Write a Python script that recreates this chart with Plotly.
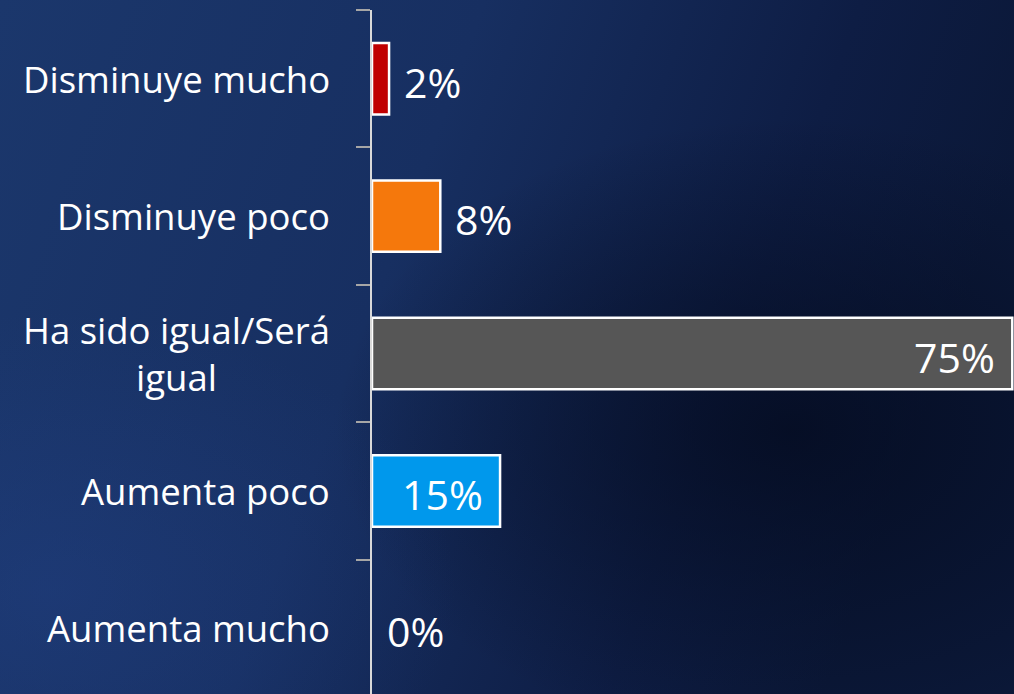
import base64
import plotly.graph_objects as go

categories = ["Disminuye mucho", "Disminuye poco", "Ha sido igual/Será<br>igual", "Aumenta poco", "Aumenta mucho"]
values = [2, 8, 75, 15, 0]
labels = ["2%", "8%", "75%", "15%", "0%"]
colors = ["#C00000", "#F5780C", "#565656", "#0098EC", "#0098EC"]

W, H = 1014, 694
ML, MR, MT, MB = 372, 0, 10, 0

svg = f'''<svg xmlns="http://www.w3.org/2000/svg" width="{W}" height="{H}" viewBox="0 0 {W} {H}">
<defs>
<linearGradient id="g" x1="0" y1="0" x2="1" y2="0.25">
<stop offset="0" stop-color="#1b376c"/>
<stop offset="0.45" stop-color="#172f61"/>
<stop offset="0.8" stop-color="#0e1d44"/>
<stop offset="1" stop-color="#0b1838"/>
</linearGradient>
<radialGradient id="r" cx="0.78" cy="0.62" r="0.45">
<stop offset="0" stop-color="#040b1f" stop-opacity="0.8"/>
<stop offset="1" stop-color="#040b1f" stop-opacity="0"/>
</radialGradient>
<radialGradient id="l" cx="0.05" cy="0.85" r="0.4">
<stop offset="0" stop-color="#23438a" stop-opacity="0.4"/>
<stop offset="1" stop-color="#23438a" stop-opacity="0"/>
</radialGradient>
</defs>
<rect width="{W}" height="{H}" fill="url(#g)"/>
<rect width="{W}" height="{H}" fill="url(#r)"/>
<rect width="{W}" height="{H}" fill="url(#l)"/>
</svg>'''
bg_src = "data:image/svg+xml;base64," + base64.b64encode(svg.encode()).decode()

pw = W - ML - MR
ph = H - MT - MB

fig = go.Figure()
fig.add_trace(go.Bar(
    y=categories, x=values, orientation="h",
    marker=dict(color=colors,
                line=dict(color="white", width=[2.5 if v > 0 else 0 for v in values])),
    width=0.52, hoverinfo="skip", showlegend=False,
))

annotations = []
for cat, v, lab in zip(categories, values, labels):
    inside = v >= 10
    annotations.append(dict(
        x=v, y=cat, xref="x", yref="y", text=lab, showarrow=False,
        xanchor="right" if inside else "left",
        xshift=-15 if inside else 13,
        yshift=-3,
        font=dict(family="Open Sans", size=41, color="white"),
    ))
    annotations.append(dict(
        x=0, y=cat, xref="x", yref="y", text=cat, showarrow=False,
        xanchor="right", xshift=-40, align="center",
        font=dict(family="Open Sans", size=36.5, color="white"),
    ))

fig.update_layout(
    width=W, height=H,
    margin=dict(l=ML, r=MR, t=MT, b=MB, pad=0),
    paper_bgcolor="#132a5a",
    plot_bgcolor="rgba(0,0,0,0)",
    images=[dict(
        source=bg_src, xref="paper", yref="paper",
        x=-ML / pw, y=1 + MT / ph, sizex=W / pw, sizey=H / ph,
        xanchor="left", yanchor="top", sizing="stretch", layer="below",
    )],
    xaxis=dict(visible=False, range=[0, 75.2], fixedrange=True),
    yaxis=dict(
        type="category", categoryorder="array", categoryarray=categories,
        range=[4.478, -0.5], showgrid=False, zeroline=False, fixedrange=True,
        showline=True, linecolor="#d9d9d9", linewidth=2,
        ticks="outside", tickson="boundaries", ticklen=14,
        tickcolor="#a6a6a6", tickwidth=2, showticklabels=False,
    ),
    annotations=annotations,
    bargap=0.48,
)

fig.write_html("out.html", config={"displayModeBar": False, "staticPlot": True})

with open("out.html", "r", encoding="utf-8") as f:
    html = f.read()
html = html.replace("<body>", '<body style="margin:0;padding:0;overflow:hidden;">', 1)
with open("out.html", "w", encoding="utf-8") as f:
    f.write(html)
